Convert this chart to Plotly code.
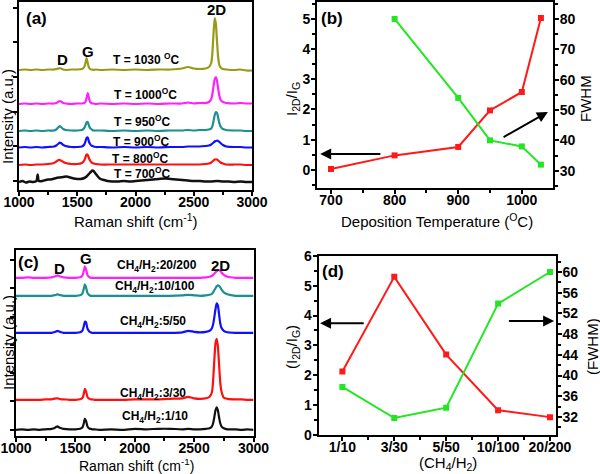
import plotly.graph_objects as go

# ---------------- Panel (a): Raman spectra vs temperature ----------------
XA = [1000,1050,1100,1150,1200,1250,1300,
      1320,1340,1350,1360,1380,1400,
      1450,1500,1540,
      1560,1570,1580,1590,1600,1610,1620,1630,1640,1660,
      1700,1800,1900,2000,2100,2200,2300,2400,
      2450,2500,2550,2600,2630,2650,
      2660,2670,2680,2690,2700,2710,2720,2730,
      2750,2780,2850,2900,2950,3000]

T1030 = [120,120.5,120,120.5,120,120.5,120.5,
         121,121.5,122,121.5,120.5,120,
         120.5,120.5,121,
         123,127,132,127,122.5,121,120.5,120.5,120,120.5,
         120,120.5,120,120.5,120,120.5,120.5,121.5,
         123,121.5,121,121.5,123,127,
         137,157,172,166,148,132,125,122.5,
         121,120.5,120,120.5,119.5,119.5]
T1000 = [86,86.5,86,86.5,86,86.5,86.5,
         87,88.5,89,88.5,87,86.5,
         86,86.5,86.5,
         87,88,92,97,92,88,87,86.5,86.5,86,
         86.5,86,86.5,86,86.5,86,86.5,86.5,
         87.5,86.5,87,87,88,91,
         96,104,111,113,109,101,94,90,
         88,87,86.5,87,86.5,86.5]
T950 = [59,59.5,59,59.5,59,59.5,59.5,
        60.5,63,64,63,61,60,
        59.5,59.5,60,
        62,64.5,67.5,68,64.5,62,61,60,59.5,59.5,
        59.5,59,59.5,59,59.5,59,59.5,59.5,
        60,59.5,60,60,60.5,61.5,
        64,69,75,78,77,72,67,63.5,
        61,60,59.5,59.5,59,59]
T900 = [42.5,43,42.5,43,42.5,43,43.5,
        44.5,46.5,47.5,47,45,44,
        43,43,43.5,
        45.5,48.5,52,52.5,48.5,46,44.5,44,43.5,43,
        43,42.5,43,42.5,43,42.5,43,43,
        43.5,43.5,43.5,44,44.5,45.5,
        46.5,47.5,48.5,49,49.5,49,48,47,
        45,43.5,43,43,42.5,42.5]
T800 = [25,25.5,25,25.5,25.5,26,27,
        28.5,30,30,29.5,28,27,
        26,26,27,
        29.5,32.5,35.5,35,32,29.5,28,27,26.5,26,
        25.5,25.5,25.5,25.5,25.5,25.5,25.5,25.5,
        25.5,25.5,25.5,26,26.5,27.5,
        28.5,29.5,30.5,30.5,30.5,29.5,28.5,27.5,
        26.5,25.5,25.5,25.5,25,25]
X700 = [1000,1030,1060,1090,1120,1150,1160,1170,1200,1230,1260,1290,1320,1350,
        1380,1410,1440,1470,1500,1530,1560,1580,1600,1620,1630,1640,1660,1680,
        1700,1730,1760,1800,1850,1900,1950,2000,2050,2100,2150,2200,2250,2300,
        2350,2400,2450,2500,2550,2600,2650,2700,2750,2800,2850,2900,2950,3000]
T700 = [8,9,7.5,8.5,8,9,15.5,9,9,10,10.5,11,12,12.5,
        13,13.5,12.5,11.5,11,11,12,13.5,16,18.5,19.5,19,16,13,
        11,10,9,8.5,8.5,9,8.5,9,9.5,10,10.5,11,11.5,11,
        10.5,10,9.5,9,9,8.5,8.5,9,8.5,8.5,8,8.5,8,8]

# ---------------- Panel (b) ----------------
TEMP = [700, 800, 900, 950, 1000, 1030]
RATIO_T = [0.03, 0.48, 0.76, 1.97, 2.58, 5.03]
TEMP_FW = [800, 900, 950, 1000, 1030]
FWHM_T = [80, 54, 40, 38, 32]

# ---------------- Panel (c): Raman spectra vs gas ratio ----------------
XC = XA
R20 = [158.5,158.5,159,158.5,158.5,158.5,159,
       159.5,160.5,161,160.5,159.5,159,
       158.5,158.5,159,
       161,165,170,167,162,160,159,158.5,158.5,158.5,
       158.5,158.5,158.5,158.5,158.5,158.5,158.5,158.5,
       158.5,158.5,158.5,159,159.5,160.5,
       161.5,162.5,164,165,166,166,165.5,164,
       161.5,159.5,158.5,158.5,158.5,158.5]
R10 = [140.5,140.5,140.5,140.5,140.5,140.5,140.5,
       141,141.5,142,141.5,141,140.5,
       140.5,140.5,141,
       143,147,152,149,144,142,141,140.5,140.5,140.5,
       140.5,140.5,140.5,140.5,140.5,140.5,140.5,141,
       141.5,141,140.5,141,141.5,142.5,
       144,146,148,150,151,150.5,149,147,
       144,142,140.5,140.5,140.5,140.5]
R5 = [103.5,103.5,103.5,103.5,103.5,103.5,103.5,
      104,105,105.5,105,104,103.5,
      103.5,103.5,104,
      106,109.5,114.5,114,108.5,106,104.5,104,103.5,103.5,
      103.5,103.5,103.5,103.5,103.5,103.5,103.5,104,
      105.5,104.5,104,104.5,105.5,108,
      112,119,127,133,131,122,113,108.5,
      105.5,104,103.5,103.5,103.5,103.5]
R3 = [36.5,36.5,36.5,36.5,36.5,37,37,
      37.5,38,38,37.5,37,37,
      36.5,36.5,37,
      38.5,42,47.5,45,40,38,37.5,37,37,36.5,
      36.5,36.5,36.5,37,37,37,37.5,38,
      39.5,38,37.5,38,39.5,44,
      56,76,93,97.5,90,72,54,45,
      38.5,37.5,37,37,36.5,36.5]
R1 = [6.5,7,6.5,7,6.5,7,7.5,
      8,9.5,10,9,8,7.5,
      7,7,7.5,
      9,12.5,17.5,15.5,10.5,8.5,7.5,7.5,7,7,
      6.5,7,6.5,7.5,7,7.5,7.5,7,
      7.5,7,7,7.5,8,10,
      13,19,26,29,26,19,13,10,
      8,7,7,6.5,7,6.5]

# ---------------- Panel (d) ----------------
GAS = ["1/10", "3/30", "5/50", "10/100", "20/200"]
RATIO_G = [2.12, 5.30, 2.69, 0.82, 0.59]
FWHM_G = [37.8, 31.8, 33.8, 53.9, 60.0]

FONT = "Liberation Sans, Arial, sans-serif"
RED = "#ff1a1a"
GREEN = "#22e622"

fig = go.Figure()

def spec(x, y, color, xa, ya, w=2.2):
    fig.add_trace(go.Scatter(x=x, y=y, mode="lines", xaxis=xa, yaxis=ya,
                             line=dict(color=color, width=w, shape="spline", smoothing=0.6),
                             showlegend=False, hoverinfo="skip"))

spec(X700, T700, "#111111", "x", "y", 2.5)
spec(XA, T800, "#ff1010", "x", "y")
spec(XA, T900, "#1010ff", "x", "y")
spec(XA, T950, "#1a9090", "x", "y")
spec(XA, T1000, "#ff20ff", "x", "y")
spec(XA, T1030, "#999a1a", "x", "y")

spec(XC, R1, "#111111", "x4", "y4")
spec(XC, R3, "#ff1010", "x4", "y4")
spec(XC, R5, "#1010ff", "x4", "y4")
spec(XC, R10, "#1a9090", "x4", "y4")
spec(XC, R20, "#ff20ff", "x4", "y4")

mk = dict(symbol="square", size=6)
fig.add_trace(go.Scatter(x=TEMP, y=RATIO_T, mode="lines+markers", xaxis="x2", yaxis="y2",
                         line=dict(color=RED, width=2), marker=dict(color=RED, **mk), showlegend=False))
fig.add_trace(go.Scatter(x=TEMP_FW, y=FWHM_T, mode="lines+markers", xaxis="x2", yaxis="y3",
                         line=dict(color=GREEN, width=2), marker=dict(color=GREEN, **mk), showlegend=False))
GX = list(range(len(GAS)))
fig.add_trace(go.Scatter(x=GX, y=RATIO_G, mode="lines+markers", xaxis="x5", yaxis="y5",
                         line=dict(color=RED, width=2), marker=dict(color=RED, **mk), showlegend=False))
fig.add_trace(go.Scatter(x=GX, y=FWHM_G, mode="lines+markers", xaxis="x5", yaxis="y6",
                         line=dict(color=GREEN, width=2), marker=dict(color=GREEN, **mk), showlegend=False))

W, H = 600, 474
def px(a, b):
    return [a / W, b / W]
def py(top, bottom):
    return [1 - bottom / H, 1 - top / H]

tickfont = dict(family=FONT, size=14, color="black", weight="bold")
base = dict(showline=True, linewidth=2, linecolor="black", ticks="outside", ticklen=4,
            tickwidth=1.5, tickcolor="black", showgrid=False, zeroline=False, tickfont=tickfont,
            automargin=False)
bx = dict(base, ticklabelstandoff=-6)
by = dict(base, ticklabelstandoff=-2)
mnr = lambda t0, d: dict(ticks="outside", ticklen=3, tick0=t0, dtick=d, tickcolor="black")

fig.update_layout(
    width=W, height=H, margin=dict(l=0, r=0, t=0, b=0, autoexpand=False),
    paper_bgcolor="white", plot_bgcolor="white",
    font=dict(family=FONT, color="black"),
    xaxis=dict(bx, domain=px(19, 252), anchor="y", range=[1000, 3000], tickvals=[1000,1500,2000,2500,3000],
               mirror=True, minor=mnr(1250, 500)),
    yaxis=dict(by, domain=py(2, 190), anchor="x", range=[0, 188], showticklabels=False,
               tick0=9, dtick=34.7, mirror=True),
    xaxis2=dict(bx, domain=px(317, 553), anchor="y2", range=[678, 1049], tickvals=[700, 800, 900, 1000],
                mirror=True, minor=mnr(750, 100)),
    yaxis2=dict(by, domain=py(2, 188), anchor="x2", range=[-0.6, 5.56], tickvals=[0,1,2,3,4,5],
                minor=mnr(0.5, 1)),
    yaxis3=dict(by, domain=py(2, 188), anchor="x2", overlaying="y2", side="right", range=[24.3, 85.6],
                tickvals=[30,40,50,60,70,80], minor=mnr(25, 10)),
    xaxis4=dict(bx, domain=px(16, 253.5), anchor="y4", range=[1000, 3000], tickvals=[1000,1500,2000,2500,3000],
                mirror=True, minor=mnr(1250, 500)),
    yaxis4=dict(by, domain=py(250.3, 436.3), anchor="x4", range=[0, 186], showticklabels=False,
                tick0=6.6, dtick=28.3, mirror=True),
    xaxis5=dict(bx, domain=px(318.5, 555.7), anchor="y5", range=[-0.46, 4.11], tickvals=GX, ticktext=GAS,
                mirror=True, minor=mnr(0.5, 1)),
    yaxis5=dict(by, domain=py(256, 434.7), anchor="x5", range=[0, 6], tickvals=[0,1,2,3,4,5,6],
                minor=mnr(0.5, 1)),
    yaxis6=dict(by, domain=py(256, 434.7), anchor="x5", overlaying="y5", side="right", range=[28.58, 63.09],
                tickvals=[32,36,40,44,48,52,56,60], minor=mnr(30, 4)),
)

ann = []
def ptxt(text, x, y, size=15, angle=0, bold=False):
    ann.append(dict(text=text, x=x / W, y=1 - y / H, xref="paper", yref="paper", showarrow=False,
                    textangle=angle, xanchor="center", yanchor="middle",
                    font=dict(family=FONT, size=size, color="black", weight="bold" if bold else "normal")))
def dtxt(text, x, y, xr, yr, size=12):
    ann.append(dict(text=text, x=x, y=y, xref=xr, yref=yr, showarrow=False, xanchor="center",
                    yanchor="middle", font=dict(family=FONT, size=size, color="black", weight="bold")))

# panel labels
ptxt("(a)", 36, 19, 17, bold=True)
ptxt("(b)", 332, 19, 17, bold=True)
ptxt("(c)", 28, 262, 17, bold=True)
ptxt("(d)", 333, 271, 17, bold=True)

# axis titles
ptxt("Raman shift (cm<sup>-1</sup>)", 136, 221, 15)
ptxt("Intensity (a.u.)", 8, 117, 15, angle=-90)
ptxt("Deposition Temperature (<sup>O</sup>C)", 437, 221, 15)
ptxt("I<sub>2D</sub>/I<sub>G</sub>", 292, 99, 15, angle=-90)
ptxt("FWHM", 585, 99, 15, angle=-90)
ptxt("Raman shift (cm<sup>-1</sup>)", 136, 465, 14)
ptxt("Intensity (a.u.)", 8, 343, 15, angle=-90)
ptxt("(CH<sub>4</sub>/H<sub>2</sub>)", 448, 463, 15)
ptxt("(I<sub>2D</sub>/I<sub>G</sub>)", 292, 347, 15, angle=-90)
ptxt("(FWHM)", 592, 347, 15, angle=-90)

# peak labels (a)
dtxt("D", 1373, 130, "x", "y", 15)
dtxt("G", 1588, 138, "x", "y", 15)
dtxt("2D", 2693, 180, "x", "y", 15)
dtxt("T = 1030 <sup>O</sup>C", 2096, 131, "x", "y")
dtxt("T = 1000<sup>O</sup>C", 2082, 96, "x", "y")
dtxt("T = 950<sup>O</sup>C", 2062, 69, "x", "y")
dtxt("T = 900<sup>O</sup>C", 2053, 49, "x", "y")
dtxt("T = 800<sup>O</sup>C", 2047, 32, "x", "y")
dtxt("T = 700<sup>O</sup>C", 2062, 17, "x", "y")

# peak labels (c)
dtxt("D", 1366, 168, "x4", "y4", 15)
dtxt("G", 1590, 178, "x4", "y4", 15)
dtxt("2D", 2725, 171, "x4", "y4", 15)
dtxt("CH<sub>4</sub>/H<sub>2</sub>:20/200", 2186, 170, "x4", "y4")
dtxt("CH<sub>4</sub>/H<sub>2</sub>:10/100", 2169, 149, "x4", "y4")
dtxt("CH<sub>4</sub>/H<sub>2</sub>:5/50", 2150, 114, "x4", "y4")
dtxt("CH<sub>4</sub>/H<sub>2</sub>:3/30", 2155, 42, "x4", "y4")
dtxt("CH<sub>4</sub>/H<sub>2</sub>:1/10", 2172, 19, "x4", "y4")

# arrows
def arrow(x, y, ax, ay, xr, yr):
    ann.append(dict(x=x, y=y, ax=ax, ay=ay, xref=xr, yref=yr, axref=xr, ayref=yr, text="",
                    showarrow=True, arrowhead=2, arrowsize=1.1, arrowwidth=2, arrowcolor="black"))
arrow(683, 0.53, 780, 0.53, "x2", "y2")
arrow(1041, 1.92, 969, 1.06, "x2", "y2")
arrow(-0.43, 3.74, 0.44, 3.74, "x5", "y5")
arrow(4.08, 3.82, 3.18, 3.82, "x5", "y5")

fig.update_layout(annotations=ann)
fig.write_html("out.html", config={"displayModeBar": False},
               post_script="document.body.style.margin='0';")
